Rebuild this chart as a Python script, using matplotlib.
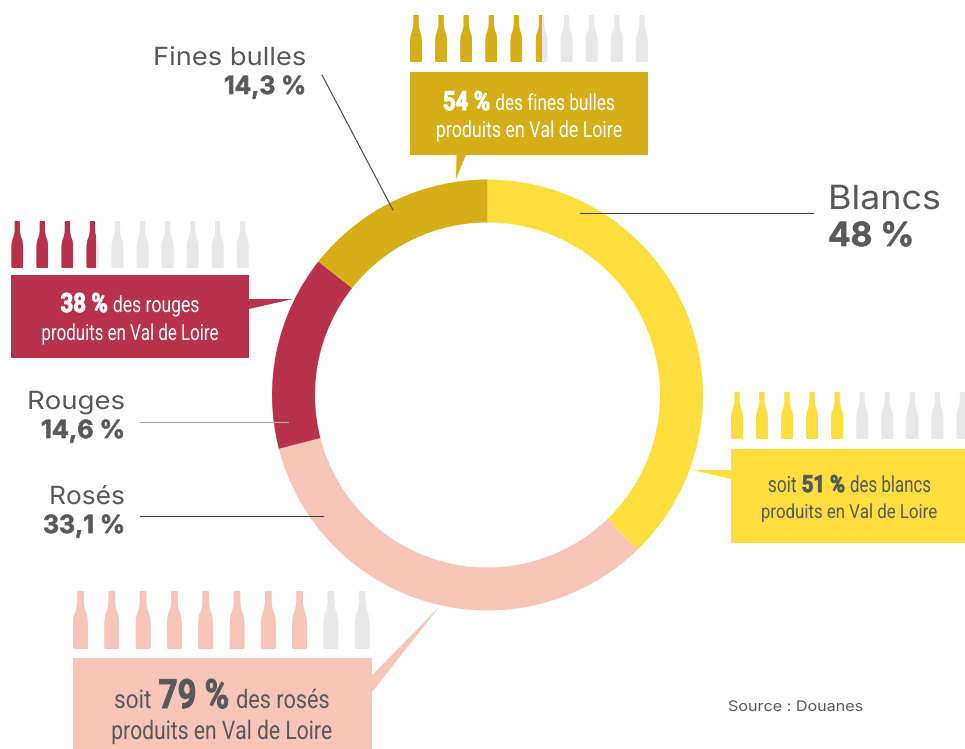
"""
donut of wine shares with bottle pictograms and callout boxes
"""
import matplotlib
matplotlib.use("Agg")
import matplotlib.pyplot as plt
import matplotlib.patheffects as path_effects
from matplotlib.patches import PathPatch, Polygon, Rectangle
from matplotlib.path import Path
from matplotlib.text import Text
from matplotlib.transforms import Affine2D, Bbox

# wedge sizes (the printed Blancs label says 48 %)
wedge_names = ["Blancs", "Rosés", "Rouges", "Fines bulles"]
wedge_values = [37.6, 33.1, 14.6, 14.3]
wedge_labels = ["48 %", "33,1 %", "14,6 %", "14,3 %"]

# filled bottles out of ten
bottles_blancs = 5.0
bottles_roses = 8.0
bottles_rouges = 3.8
bottles_fines = 5.5

YELLOW = "#ffde40"
PINK = "#f9c5b9"
RED = "#b83349"
GOLD = "#d5ae18"
EMPTY = "#e8e8e8"
GREY = "#58595b"

LABEL_FONT = ["Inter", "DejaVu Sans"]
NARROW_FONT = ["Roboto", "DejaVu Sans"]


class Squeeze(path_effects.AbstractPathEffect):
    """
    draws the text narrower or wider from its left edge, no condensed font is installed
    a small stroke makes the bold pieces as heavy as in the reference
    """
    def __init__(self, sx, stroke=0):
        super().__init__()
        self.sx = sx
        self.stroke = stroke

    def draw_path(self, renderer, gc, tpath, affine, rgbFace=None):
        m = affine.get_matrix().copy()
        m[0, 0] *= self.sx
        m[0, 1] *= self.sx
        if self.stroke:
            gc0 = renderer.new_gc()
            gc0.copy_properties(gc)
            gc0.set_linewidth(self.stroke)
            gc0.set_foreground(rgbFace)
            renderer.draw_path(gc0, tpath, Affine2D(m), rgbFace)
            gc0.restore()
        else:
            renderer.draw_path(gc, tpath, Affine2D(m), rgbFace)


class ScaledText(Text):
    """
    left aligned text that reports the box it really draws once squeezed
    """
    sx = 1.0

    def squeeze(self, sx, stroke=0):
        self.sx = sx
        self.set_path_effects([Squeeze(sx, stroke)])

    def get_window_extent(self, renderer=None, dpi=None):
        box = super().get_window_extent(renderer, dpi)
        return Bbox.from_extents(box.x0, box.y0, box.x0 + box.width * self.sx, box.y1)


def add_text(x, y, txt, size, color, family, bold):
    t = ScaledText(x, y, txt, fontsize=size, color=color, va="baseline", ha="left", family=family,
                   fontweight="bold" if bold else "normal", clip_on=False)
    ax.add_artist(t)
    return t


fig = plt.figure(figsize=(9.65, 7.49), dpi=100)
ax = fig.add_axes([0, 0, 1, 1])

# y axis is flipped later, so going counterclockwise here looks clockwise
ax.pie(wedge_values, colors=[YELLOW, PINK, RED, GOLD], center=(487.5, 395), radius=215.5,
       startangle=-90, counterclock=True, wedgeprops={"width": 43})
ax.set_xlim(0, 965)
ax.set_ylim(749, 0)
ax.set_aspect("auto")
ax.axis("off")

renderer = fig.canvas.get_renderer()

BOTTLE = Path(
    [(0.32, 0.0), (0.68, 0.0), (0.72, 0.0), (0.72, 0.03), (0.72, 0.20), (0.74, 0.30), (0.88, 0.38), (1.0, 0.45),
     (1.0, 0.58), (1.0, 0.96), (1.0, 1.0), (0.90, 1.0), (0.10, 1.0), (0.0, 1.0), (0.0, 0.96), (0.0, 0.58),
     (0.0, 0.45), (0.12, 0.38), (0.26, 0.30), (0.28, 0.20), (0.28, 0.03), (0.28, 0.0), (0.32, 0.0), (0.32, 0.0)],
    [Path.MOVETO, Path.LINETO, Path.CURVE3, Path.CURVE3, Path.LINETO, Path.CURVE3, Path.CURVE3, Path.CURVE3,
     Path.CURVE3, Path.LINETO, Path.CURVE3, Path.CURVE3, Path.LINETO, Path.CURVE3, Path.CURVE3, Path.LINETO,
     Path.CURVE3, Path.CURVE3, Path.CURVE3, Path.CURVE3, Path.LINETO, Path.CURVE3, Path.CURVE3, Path.CLOSEPOLY])


def draw_bottles(x0, y0, step, width, height, filled, color):
    """
    ten bottles, the coloured one is clipped when the bottle is only partly filled
    """
    for ii in range(10):
        left = x0 + ii * step
        shape = BOTTLE.transformed(Affine2D().scale(width, height).translate(left, y0))
        ax.add_patch(PathPatch(shape, fc=EMPTY, ec="none"))
        share = min(max(filled - ii, 0), 1)
        if share > 0:
            top = PathPatch(shape, fc=color, ec="none")
            ax.add_patch(top)
            top.set_clip_path(Rectangle((left, y0), width * share, height, transform=ax.transData))


def draw_box(x0, y0, x1, y1, tip, color):
    ax.add_patch(Rectangle((x0, y0), x1 - x0, y1 - y0, fc=color, ec="none"))
    ax.add_patch(Polygon(tip, closed=True, fc=color, ec="none"))


def draw_runs(xc, y, runs, color, gap):
    """
    one centred line made of (text, size, bold, squeeze) pieces
    """
    pieces = []
    for txt, size, bold, sx in runs:
        t = add_text(0, y, txt, size, color, NARROW_FONT, bold)
        t.squeeze(sx, stroke=0.7 if bold else 0)
        pieces.append((t, t.get_window_extent(renderer).width))
    x = xc - (sum(p[1] for p in pieces) + gap * (len(pieces) - 1)) / 2
    for t, w in pieces:
        t.set_x(x)
        x += w + gap


def draw_label(x, y, txt, size, target, bold=False, right=True):
    """
    label stretched to the width it has in the reference
    """
    t = add_text(x, y, txt, size, GREY, LABEL_FONT, bold)
    w = t.get_window_extent(renderer).width
    t.squeeze(target / w, stroke=0.5 if bold else 0)
    if right:
        t.set_x(x - target)


# leader lines
ax.plot([580, 813], [213, 213], color="#444444", lw=0.8)
ax.plot([322, 393], [75, 210], color="#444444", lw=0.8)
ax.plot([140, 288], [422, 422], color="#aaaaaa", lw=0.8)
ax.plot([140, 323], [516, 516], color="#444444", lw=0.8)

# labels beside the ring
draw_label(828, 209, wedge_names[0], 24, 113, right=False)
draw_label(828, 246, wedge_labels[0], 24, 86, bold=True, right=False)
draw_label(125, 504, wedge_names[1], 18, 76)
draw_label(125, 533, wedge_labels[1], 18, 82, bold=True)
draw_label(125, 409, wedge_names[2], 18, 98)
draw_label(125, 438, wedge_labels[2], 18, 84, bold=True)
draw_label(306, 65, wedge_names[3], 18, 153)
draw_label(306, 94, wedge_labels[3], 18, 82, bold=True)

# bottles
draw_bottles(410, 15, 25.1, 12, 47, bottles_fines, GOLD)
draw_bottles(11.3, 221, 25.05, 12, 47, bottles_rouges, RED)
draw_bottles(731, 392, 25.05, 12, 47, bottles_blancs, YELLOW)
draw_bottles(73, 591, 31.3, 15, 58, bottles_roses, PINK)

# callouts
draw_box(410, 72, 648, 155, [(456.5, 155), (466, 155), (456, 179)], GOLD)
draw_box(11, 275, 249, 358, [(249, 299), (249, 309), (293, 299)], RED)
draw_box(731, 449, 965, 543, [(731, 470), (731, 479), (692, 470)], YELLOW)
draw_box(73, 658, 372, 749, [(372, 675), (372, 692), (440, 606)], PINK)

draw_runs(529, 110, [("54 %", 19, True, 0.84), ("des fines bulles", 16, False, 0.775)], "white", 5)
draw_runs(529, 137, [("produits en Val de Loire", 16, False, 0.80)], "white", 0)
draw_runs(130, 312, [("38 %", 19, True, 0.84), ("des rouges", 16, False, 0.79)], "white", 5)
draw_runs(130, 340, [("produits en Val de Loire", 16, False, 0.76)], "white", 0)
# the blancs box touches the picture edge, smaller type with less squeeze stays inside
draw_runs(849.5, 492, [("soit", 16, False, 0.78), ("51 %", 17, True, 0.86), ("des blancs", 16, False, 0.76)], GREY, 5)
draw_runs(849.5, 518, [("produits en Val de Loire", 14, False, 0.865)], GREY, 0)
draw_runs(222, 708, [("soit", 18.5, False, 0.88), ("79 %", 29, True, 0.82), ("des rosés", 18.5, False, 0.84)], GREY, 7)
draw_runs(222, 739, [("produits en Val de Loire", 18.5, False, 0.82)], GREY, 0)

draw_label(728, 711, "Source : Douanes", 10.5, 135, right=False)

plt.savefig("out.png", dpi=100)
